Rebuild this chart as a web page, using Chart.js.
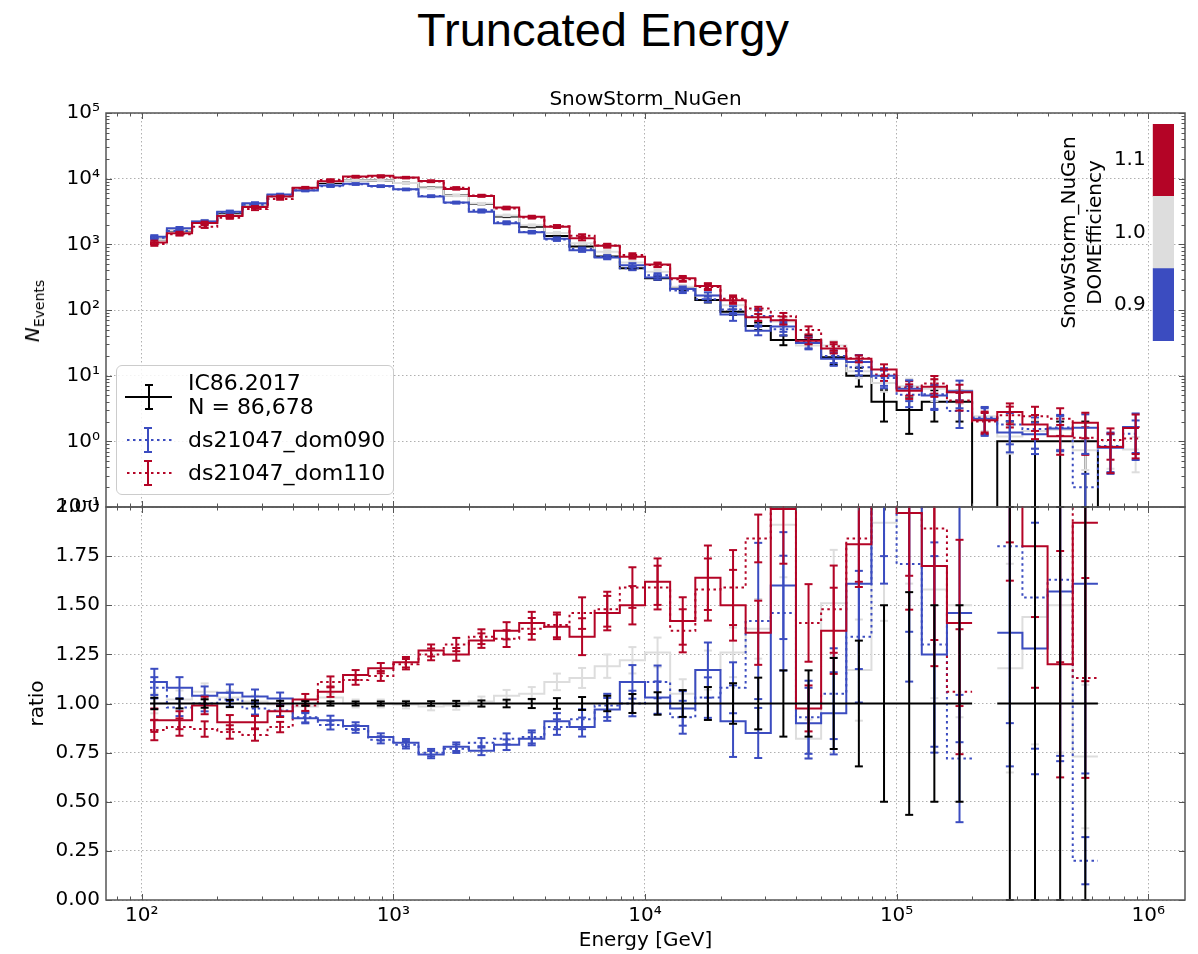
<!DOCTYPE html>
<html>
<head>
<meta charset="utf-8">
<title>Truncated Energy</title>
<script src="https://cdn.jsdelivr.net/npm/chart.js"></script>
<style>
  html, body { margin: 0; padding: 0; background: #fff; }
  #page { position: relative; width: 1198px; height: 954px; overflow: hidden; font-family: "DejaVu Sans", sans-serif; color: #000; }
  canvas { position: absolute; }
  #mainTitle { position: absolute; left: 4px; top: 6px; width: 1198px; text-align: center;
               font-family: "Liberation Sans", Arial, sans-serif; font-size: 47px; line-height: 47px; }
  #yLabelTop { position: absolute; left: 33px; top: 311px; white-space: nowrap; font-size: 20px; line-height: 24px;
               transform: translate(-50%, -50%) rotate(-90deg); }
  #yLabelTop sub { font-size: 14px; vertical-align: baseline; position: relative; top: 5px; }
  #legend { position: absolute; left: 116px; top: 365px; width: 276px; height: 128px;
            border: 1.5px solid #cccccc; border-radius: 6px; background: rgba(255,255,255,0.85); }
  #legend svg { position: absolute; left: 0; top: 0; }
  .lg { position: absolute; left: 71px; font-size: 22px; line-height: 24px; white-space: nowrap; }
</style>
</head>
<body>
<div id="page">
  <div id="mainTitle">Truncated Energy</div>
  <canvas id="topChart" width="1198" height="440" style="left:0;top:80px"></canvas>
  <canvas id="bottomChart" width="1198" height="454" style="left:0;top:500px"></canvas>
  <canvas id="cbarChart" width="140" height="240" style="left:1040px;top:110px"></canvas>
  <div id="yLabelTop"><i>N</i><sub>Events</sub></div>
  <div id="legend">
    <svg width="276" height="128">
      <!-- IC86.2017 : linea negra con barra de error -->
      <line x1="8" y1="31" x2="55" y2="31" stroke="#000" stroke-width="2"/>
      <line x1="32" y1="19" x2="32" y2="43" stroke="#000" stroke-width="2"/>
      <line x1="28" y1="19" x2="36" y2="19" stroke="#000" stroke-width="2"/>
      <line x1="28" y1="43" x2="36" y2="43" stroke="#000" stroke-width="2"/>
      <!-- ds21047_dom090 -->
      <line x1="10" y1="74" x2="55" y2="74" stroke="#3b4cc0" stroke-width="2" stroke-dasharray="2.5 3.5"/>
      <line x1="31" y1="62" x2="31" y2="86" stroke="#3b4cc0" stroke-width="2"/>
      <line x1="27" y1="62" x2="35" y2="62" stroke="#3b4cc0" stroke-width="2"/>
      <line x1="27" y1="86" x2="35" y2="86" stroke="#3b4cc0" stroke-width="2"/>
      <!-- ds21047_dom110 -->
      <line x1="10" y1="107" x2="55" y2="107" stroke="#b40426" stroke-width="2" stroke-dasharray="2.5 3.5"/>
      <line x1="31" y1="95" x2="31" y2="119" stroke="#b40426" stroke-width="2"/>
      <line x1="27" y1="95" x2="35" y2="95" stroke="#b40426" stroke-width="2"/>
      <line x1="27" y1="119" x2="35" y2="119" stroke="#b40426" stroke-width="2"/>
    </svg>
    <div class="lg" style="top:5px">IC86.2017</div>
    <div class="lg" style="top:29px">N = 86,678</div>
    <div class="lg" style="top:62px">ds21047_dom090</div>
    <div class="lg" style="top:95px">ds21047_dom110</div>
  </div>
</div>
<script>
// Bordes y centros de los bins (exponentes de 10, en GeV)
const binEdgeExp = [2.033, 2.1, 2.2, 2.3, 2.4, 2.5, 2.6, 2.7, 2.8, 2.9, 3.0, 3.1, 3.2, 3.3, 3.4, 3.5, 3.6, 3.7, 3.8, 3.9,
  4.0, 4.1, 4.2, 4.3, 4.4, 4.5, 4.6, 4.7, 4.8, 4.9, 5.0, 5.1, 5.2, 5.3, 5.4, 5.5, 5.6, 5.7, 5.8, 5.9, 5.963];
const binCenterExp = [2.05, 2.15, 2.25, 2.35, 2.45, 2.55, 2.65, 2.75, 2.85, 2.95, 3.05, 3.15, 3.25, 3.35, 3.45, 3.55,
  3.65, 3.75, 3.85, 3.95, 4.05, 4.15, 4.25, 4.35, 4.45, 4.55, 4.65, 4.75, 4.85, 4.95, 5.05, 5.15, 5.25, 5.35, 5.45,
  5.55, 5.65, 5.75, 5.85, 5.95];

// Datos IC86.2017 (cuentas por bin y su error)
const countsData = [1170, 1620, 2140, 2980, 4090, 5590, 7150, 8620, 9450, 9350, 8620, 7250, 5580, 4130, 2650, 1860,
  1340, 923, 650, 432, 304, 214, 142, 94, 57, 35, 35, 19, 10, 4, 3, 4, 4, 0, 1, 1, 1, 1, 0, 0];
const errData = [34.2, 40.2, 46.3, 54.6, 64.0, 74.8, 84.6, 92.8, 97.2, 96.7, 92.8, 85.1, 74.7, 64.3, 51.5, 43.1, 36.6,
  30.4, 25.5, 20.8, 17.4, 14.6, 11.9, 9.7, 7.5, 5.9, 5.9, 4.4, 3.2, 2.0, 1.7, 2.0, 2.0, 0, 1, 1, 1, 1, 0, 0];

// SnowStorm_NuGen con DOMEfficiency 0.9 / 1.0 / 1.1 (cuentas)
const countsSnow090 = [1300, 1750, 2230, 3140, 4230, 5730, 6610, 7890, 8360, 7760, 6900, 5370, 4350, 3140, 2090, 1530,
  1220, 812, 630, 480, 313, 209, 166, 85.5, 48.5, 56, 31.5, 18.1, 16.1, 10, 6.3, 5.0, 5.8, 2.2, 1.36, 1.28, 1.57, 1.61, 0.8, 1.66];
const countsSnow100 = [1170, 1650, 2270, 3070, 4130, 5560, 7040, 8880, 9450, 9350, 8580, 7140, 5520, 4170, 2760, 1950,
  1490, 1040, 774, 527, 383, 225, 166, 118, 78.7, 66.9, 28.7, 28.7, 11.7, 7.7, 6.9, 6.3, 6.0, 2.4, 1.18, 1.44, 1.50, 0.73, 0.85, 0.75];
const countsSnow110 = [1070, 1480, 2120, 2700, 3700, 5370, 7290, 9140, 10820, 11030, 10430, 9210, 6980, 5450, 3630, 2620,
  1860, 1240, 949, 648, 492, 304, 233, 141, 77.5, 69.7, 34.1, 26.0, 18.1, 12.4, 5.9, 6.8, 5.6, 2.1, 2.8, 1.80, 1.20, 1.92, 0.82, 1.6];
// ds21047_dom090 / ds21047_dom110 (cuentas)
const countsDs090 = [1260, 1590, 2140, 3040, 3990, 5390, 6650, 7670, 8220, 7620, 6810, 5440, 4300, 3300, 2170, 1540,
  1180, 849, 644, 432, 337, 199, 146, 102, 80.9, 51.1, 32.6, 20.0, 13.4, 9.2, 5.1, 5.2, 2.9, 2.3, 1.8, 1.54, 1.63, 0.20, 0.85, 1.3];
const countsDs110 = [1010, 1430, 1860, 2550, 3440, 4920, 7080, 9570, 10580, 10660, 10340, 9060, 7250, 5530, 3520, 2570,
  1880, 1350, 962, 687, 483, 293, 224, 149, 105, 80.5, 49.4, 28.1, 18.4, 10.4, 6.6, 7.6, 4.2, 2.0, 2.5, 2.4, 2.2, 1.13, 1.05, 1.1];

// Cocientes simulación / datos (panel inferior)
const ratioSnow090 = [1.11, 1.08, 1.04, 1.055, 1.035, 1.025, 0.925, 0.915, 0.885, 0.83, 0.80, 0.74, 0.78, 0.76, 0.79, 0.82,
  0.91, 0.88, 0.97, 1.11, 1.03, 0.975, 1.17, 0.91, 0.85, 1.60, 0.90, 0.95, 1.61, 2.5, 2.1, 1.25, 1.46, null, 1.36, 1.28, 1.57, 1.61, null, null];
const ratioSnow100 = [1.00, 1.02, 1.06, 1.03, 1.01, 0.995, 0.985, 1.03, 1.00, 1.00, 0.995, 0.985, 0.99, 1.01, 1.04, 1.05,
  1.11, 1.13, 1.19, 1.22, 1.26, 1.05, 1.17, 1.26, 1.38, 1.91, 0.82, 1.51, 1.17, 1.92, 2.3, 1.58, 1.50, null, 1.18, 1.44, 1.50, 0.73, null, null];
const ratioSnow110 = [0.915, 0.915, 0.99, 0.905, 0.905, 0.96, 1.02, 1.06, 1.145, 1.18, 1.21, 1.27, 1.25, 1.32, 1.37, 1.41,
  1.39, 1.34, 1.46, 1.50, 1.62, 1.42, 1.64, 1.50, 1.36, 1.99, 0.975, 1.37, 1.81, 3.1, 1.97, 1.70, 1.41, null, 2.8, 1.80, 1.20, 1.92, null, null];
const ratioDs090 = [1.08, 0.98, 1.00, 1.02, 0.975, 0.965, 0.93, 0.89, 0.87, 0.815, 0.79, 0.75, 0.77, 0.80, 0.82, 0.83,
  0.88, 0.92, 0.99, 1.00, 1.11, 0.93, 1.03, 1.08, 1.42, 1.46, 0.93, 1.05, 1.34, 2.3, 1.71, 1.30, 0.72, null, 1.8, 1.54, 1.63, 0.20, null, null];
const ratioDs110 = [0.865, 0.88, 0.87, 0.855, 0.84, 0.88, 0.99, 1.11, 1.12, 1.14, 1.20, 1.25, 1.30, 1.34, 1.33, 1.38,
  1.40, 1.46, 1.48, 1.59, 1.59, 1.37, 1.58, 1.59, 1.84, 2.3, 1.41, 1.48, 1.84, 2.6, 2.2, 1.89, 1.06, null, 2.5, 2.4, 2.2, 1.13, null, null];

// Error relativo de cada simulación por bin
const relSnow090 = [0.06, 0.05, 0.045, 0.04, 0.035, 0.03, 0.028, 0.025, 0.022, 0.022, 0.024, 0.025, 0.028, 0.03, 0.034, 0.04,
  0.045, 0.055, 0.06, 0.077, 0.08, 0.09, 0.12, 0.2, 0.15, 0.17, 0.2, 0.22, 0.27, 0.3, 0.35, 0.4, 0.45, 0.45, 0.5, 0.5, 0.55, 0.6, 0.6, 0.6];
const relSnow100 = [0.05, 0.045, 0.04, 0.035, 0.03, 0.026, 0.024, 0.02, 0.02, 0.02, 0.02, 0.02, 0.022, 0.025, 0.028, 0.032,
  0.038, 0.045, 0.05, 0.055, 0.06, 0.07, 0.085, 0.1, 0.11, 0.14, 0.12, 0.18, 0.22, 0.26, 0.3, 0.35, 0.38, 0.4, 0.45, 0.45, 0.5, 0.5, 0.55, 0.55];
const relSnow110 = [0.065, 0.05, 0.045, 0.04, 0.035, 0.03, 0.028, 0.025, 0.022, 0.022, 0.022, 0.024, 0.026, 0.028, 0.032, 0.04,
  0.045, 0.07, 0.06, 0.065, 0.073, 0.085, 0.1, 0.12, 0.12, 0.14, 0.12, 0.16, 0.12, 0.2, 0.25, 0.3, 0.3, 0.35, 0.35, 0.4, 0.48, 0.42, 0.6, 0.6];
const relDs090 = [0.05, 0.045, 0.04, 0.035, 0.032, 0.03, 0.028, 0.025, 0.022, 0.022, 0.024, 0.025, 0.028, 0.03, 0.034, 0.04,
  0.045, 0.055, 0.06, 0.065, 0.075, 0.09, 0.1, 0.12, 0.28, 0.2, 0.2, 0.22, 0.25, 0.3, 0.35, 0.4, 0.45, 0.45, 0.5, 0.5, 0.55, 0.6, 0.6, 0.6];
const relDs110 = [0.06, 0.05, 0.045, 0.04, 0.035, 0.03, 0.028, 0.025, 0.022, 0.022, 0.022, 0.024, 0.026, 0.028, 0.032, 0.04,
  0.045, 0.055, 0.06, 0.065, 0.07, 0.08, 0.1, 0.12, 0.066, 0.12, 0.14, 0.15, 0.12, 0.2, 0.25, 0.3, 0.3, 0.35, 0.35, 0.4, 0.45, 0.45, 0.5, 0.5];

// Marcas de los ejes
const energyTicks = [1e2, 1e3, 1e4, 1e5, 1e6];
const countTicks = [1e-1, 1e0, 1e1, 1e2, 1e3, 1e4, 1e5];
const ratioTicks = [0, 0.25, 0.5, 0.75, 1.0, 1.25, 1.5, 1.75, 2.0];
const cbarTicks = [0.9, 1.0, 1.1];
const cbarBins = [[0.85, 0.95], [0.95, 1.05], [1.05, 1.15]];

// Colores (coolwarm)
const BLUE = '#3b4cc0';
const GREY = '#dddddd';
const RED = '#b40426';
const SPINE = '#555555';
const GRID = 'rgba(150,150,150,0.75)';
const FONT = "'DejaVu Sans', sans-serif";
const LOG_FLOOR = 1e-4; // para dibujar ceros en escala logarítmica

const binEdges = binEdgeExp.map(e => Math.pow(10, e));
const binCenters = binCenterExp.map(e => Math.pow(10, e));

Chart.defaults.font.family = FONT;
Chart.defaults.color = '#000';

function toSup(n) {
    const map = { '-': '\u207B', '0': '\u2070', '1': '\u00B9', '2': '\u00B2', '3': '\u00B3', '4': '\u2074',
        '5': '\u2075', '6': '\u2076', '7': '\u2077', '8': '\u2078', '9': '\u2079' };
    return String(n).split('').map(c => map[c]).join('');
}
function powerLabel(v) {
    return '10' + toSup(Math.round(Math.log10(v)));
}

// Ancho fijo del eje y sin el relleno extra que Chart.js deja para las etiquetas
function fixWidth(w) {
    return s => { s.width = w; s.paddingTop = 0; s.paddingBottom = 0; };
}
function fixHeight(h) {
    return s => { s.height = h; s.paddingLeft = 0; s.paddingRight = 0; };
}

// Puntos de un histograma escalonado (bordes de bin)
function stepPoints(values, logPanel) {
    const pts = [];
    values.forEach((v, i) => {
        if (v === null) {
            pts.push({ x: binEdges[i], y: null });
            return;
        }
        const y = (logPanel && v <= 0) ? LOG_FLOOR : v;
        pts.push({ x: binEdges[i], y: y }, { x: binEdges[i + 1], y: y });
    });
    return pts;
}

// Barras de error: segmento vertical por bin, separado con null
function errorPoints(values, errs, logPanel) {
    const pts = [];
    values.forEach((v, i) => {
        if (v === null || !errs[i]) return;
        let lo = v - errs[i];
        if (logPanel && lo <= 0) lo = LOG_FLOOR;
        pts.push({ x: binCenters[i], y: lo }, { x: binCenters[i], y: v + errs[i] }, { x: binCenters[i], y: null });
    });
    return pts;
}

function stepDataset(pts, color, dash, order) {
    return {
        data: pts, borderColor: color, borderWidth: 2, borderDash: dash, borderCapStyle: 'butt',
        pointRadius: 0, fill: false, tension: 0, spanGaps: false, order: order, clip: 1
    };
}
function errDataset(pts, color, order) {
    return {
        data: pts, borderColor: color, borderWidth: 2, pointStyle: 'line', pointRadius: 4,
        pointBorderColor: color, pointBorderWidth: 2, fill: false, tension: 0, spanGaps: false, order: order, clip: 1
    };
}

const mcSeries = [
    { counts: countsSnow110, ratio: ratioSnow110, rel: relSnow110, color: RED, dash: [], order: 1 },
    { counts: countsSnow090, ratio: ratioSnow090, rel: relSnow090, color: BLUE, dash: [], order: 2 },
    { counts: countsDs110, ratio: ratioDs110, rel: relDs110, color: RED, dash: [2.5, 3.5], order: 3 },
    { counts: countsDs090, ratio: ratioDs090, rel: relDs090, color: BLUE, dash: [2.5, 3.5], order: 4 },
    { counts: countsSnow100, ratio: ratioSnow100, rel: relSnow100, color: GREY, dash: [], order: 5 }
];

function buildDatasets(panel) {
    const logPanel = panel === 'top';
    const sets = [];
    mcSeries.forEach(s => {
        const vals = logPanel ? s.counts : s.ratio;
        const errs = vals.map((v, i) => v === null ? 0 : v * s.rel[i]);
        sets.push(stepDataset(stepPoints(vals, logPanel), s.color, s.dash, s.order * 2));
        sets.push(errDataset(errorPoints(vals, errs, logPanel), s.color, s.order * 2));
    });
    // Datos: abajo del todo en el panel superior, arriba en el cociente
    let dVals, dErrs, dOrder;
    if (logPanel) {
        dVals = countsData;
        dErrs = errData;
        dOrder = 20;
    } else {
        dVals = countsData.map(n => n > 0 ? 1 : null);
        dErrs = countsData.map((n, i) => n > 0 ? errData[i] / n : 0);
        dOrder = 0;
    }
    sets.push(stepDataset(stepPoints(dVals, logPanel), '#000', [], dOrder));
    sets.push(errDataset(errorPoints(dVals, dErrs, logPanel), '#000', dOrder));
    return sets;
}

// Marcas mayores y menores en escala log
function logTicks(min, max) {
    const out = [];
    for (let d = Math.floor(Math.log10(min)); d <= Math.ceil(Math.log10(max)); d++) {
        for (let k = 1; k <= 9; k++) {
            const v = k * Math.pow(10, d);
            if (v >= min * 0.9999 && v <= max * 1.0001) out.push({ v: v, major: k === 1 });
        }
    }
    return out;
}

// Marco y marcas hacia dentro en los cuatro lados
const frameTicks = {
    id: 'frameTicks',
    afterDatasetsDraw(chart, args, opts) {
        const { ctx, chartArea: a, scales } = chart;
        const xs = scales.x, ys = scales.y;
        ctx.save();
        ctx.strokeStyle = SPINE;
        ctx.lineWidth = 1;
        const seg = (x1, y1, x2, y2) => { ctx.beginPath(); ctx.moveTo(x1, y1); ctx.lineTo(x2, y2); ctx.stroke(); };
        logTicks(xs.min, xs.max).forEach(t => {
            const px = Math.round(xs.getPixelForValue(t.v)) + 0.5;
            const len = t.major ? 6 : 3.5;
            seg(px, a.bottom, px, a.bottom - len);
            seg(px, a.top, px, a.top + len);
        });
        const yt = opts.yLog ? logTicks(ys.min, ys.max) : opts.yMajors.map(v => ({ v: v, major: true }));
        yt.forEach(t => {
            const py = Math.round(ys.getPixelForValue(t.v)) + 0.5;
            const len = t.major ? 6 : 3.5;
            seg(a.left, py, a.left + len, py);
            seg(a.right, py, a.right - len, py);
        });
        ctx.lineWidth = 1.5;
        ctx.strokeRect(a.left, a.top, a.right - a.left, a.bottom - a.top);
        ctx.restore();
    }
};

const tickFont = { size: 20, family: FONT };

function xScale(showLabels) {
    return {
        type: 'logarithmic', min: 72.1, max: 1.40e6,
        afterBuildTicks: s => { s.ticks = energyTicks.map(v => ({ value: v })); },
        afterFit: fixHeight(showLabels ? 54 : 0),
        ticks: { display: showLabels, callback: v => powerLabel(v), font: tickFont, color: '#000',
                 padding: 4, autoSkip: false, maxRotation: 0, minRotation: 0 },
        grid: { color: GRID, lineWidth: 1, drawTicks: false },
        border: { display: false, dash: [1.5, 2.5] },
        title: { display: showLabels, text: 'Energy [GeV]', font: { size: 20, family: FONT },
                 padding: { top: 0, bottom: 1 }, color: '#000' }
    };
}

// Panel superior: cuentas
new Chart(document.getElementById('topChart'), {
    type: 'line',
    data: { datasets: buildDatasets('top') },
    options: {
        responsive: false, animation: false, devicePixelRatio: 1, events: [],
        layout: { padding: { top: 8, right: 13, bottom: 13, left: 0 } },
        scales: {
            x: xScale(false),
            y: {
                type: 'logarithmic', min: 0.1, max: 1e5,
                afterBuildTicks: s => { s.ticks = countTicks.map(v => ({ value: v })); },
                afterFit: fixWidth(106),
                ticks: { callback: v => powerLabel(v), font: tickFont, color: '#000', padding: 6, autoSkip: false },
                grid: { color: GRID, lineWidth: 1, drawTicks: false },
                border: { display: false, dash: [1.5, 2.5] }
            }
        },
        plugins: {
            legend: { display: false }, tooltip: { enabled: false },
            title: { display: true, text: 'SnowStorm_NuGen', fullSize: false, color: '#000',
                     font: { size: 20, family: FONT, weight: 'normal' }, padding: { top: 0, bottom: 1 } },
            frameTicks: { yLog: true }
        }
    },
    plugins: [frameTicks]
});

// Panel inferior: cociente
new Chart(document.getElementById('bottomChart'), {
    type: 'line',
    data: { datasets: buildDatasets('bottom') },
    options: {
        responsive: false, animation: false, devicePixelRatio: 1, events: [],
        layout: { padding: { top: 7, right: 13, bottom: 0, left: 0 } },
        scales: {
            x: xScale(true),
            y: {
                type: 'linear', min: 0, max: 2,
                afterBuildTicks: s => { s.ticks = ratioTicks.map(v => ({ value: v })); },
                afterFit: fixWidth(106),
                ticks: { callback: v => v.toFixed(2), font: tickFont, color: '#000', padding: 6, autoSkip: false },
                grid: { color: GRID, lineWidth: 1, drawTicks: false },
                border: { display: false, dash: [1.5, 2.5] },
                title: { display: true, text: 'ratio', font: { size: 20, family: FONT }, color: '#000',
                         padding: { top: 26, bottom: 0 } }
            }
        },
        plugins: {
            legend: { display: false }, tooltip: { enabled: false },
            frameTicks: { yLog: false, yMajors: ratioTicks }
        }
    },
    plugins: [frameTicks]
});

// Barra de color DOMEfficiency
new Chart(document.getElementById('cbarChart'), {
    type: 'bar',
    data: {
        labels: ['DOMEfficiency'],
        datasets: cbarBins.map((b, i) => ({
            data: [b], backgroundColor: [BLUE, GREY, RED][i], borderWidth: 0,
            barPercentage: 1, categoryPercentage: 1, grouped: false
        }))
    },
    options: {
        responsive: false, animation: false, devicePixelRatio: 1, events: [],
        layout: { padding: { top: 14, right: 6, bottom: 9, left: 0 } },
        scales: {
            x: { display: false },
            y: {
                type: 'linear', min: 0.85, max: 1.15,
                afterBuildTicks: s => { s.ticks = cbarTicks.map(v => ({ value: v })); },
                afterFit: fixWidth(112.7),
                ticks: { callback: v => v.toFixed(1), font: tickFont, color: '#000', padding: 7 },
                grid: { display: false, drawTicks: false },
                border: { display: false },
                title: { display: true, text: ['SnowStorm_NuGen', 'DOMEfficiency'], color: '#000',
                         font: { size: 20, family: FONT, lineHeight: 1.3 }, padding: { top: 17, bottom: 0 } }
            }
        },
        plugins: { legend: { display: false }, tooltip: { enabled: false } }
    }
});
</script>
</body>
</html>
